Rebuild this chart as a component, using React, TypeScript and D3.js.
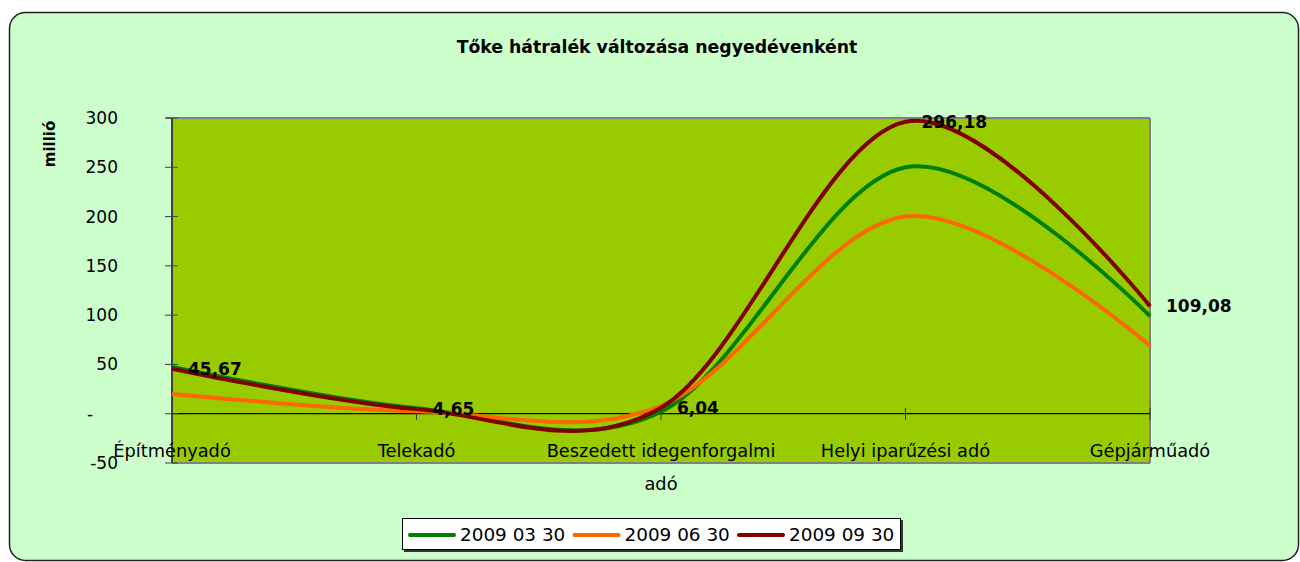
import React from "react";
import * as d3 from "d3";

const categories: string[][] = [
  ["Építményadó"],
  ["Telekadó"],
  ["Beszedett idegenforgalmi", "adó"],
  ["Helyi iparűzési adó"],
  ["Gépjárműadó"],
];
const seriesNames = ["2009 03 30", "2009 06 30", "2009 09 30"];
const seriesColors = ["#008000", "#FF6600", "#800000"];
const s0330 = [47.5, 5.5, 2, 250, 99];
const s0630 = [20, 2.5, 8, 200, 69];
const s0930 = [45.67, 4.65, 6.04, 296.18, 109.08];
const labelValues = ["45,67", "4,65", "6,04", "296,18", "109,08"];
const yTicks = [-50, 0, 50, 100, 150, 200, 250, 300];

const FONT = "'Comic Sans MS', 'DejaVu Sans', sans-serif";

export default function App() {
  const W = 1300, H = 562;
  const left = 172, right = 1150, top = 118, bottom = 463;
  const x = d3.scalePoint<number>().domain(d3.range(categories.length)).range([left, right]);
  const y = d3.scaleLinear().domain([-50, 300]).range([bottom, top]);
  const line = d3
    .line<number>()
    .x((_, i) => x(i) as number)
    .y((v) => y(v))
    .curve(d3.curveCardinal.tension(0));
  const series = [s0330, s0630, s0930];

  return (
    <svg width={W} height={H} style={{ position: "absolute", left: 0, top: 0 }} fontFamily={FONT}>
      <rect x={9.5} y={12.5} width={1289} height={548} rx={16} fill="#CCFFCC" stroke="#222" strokeWidth={1.5} />
      <text x={657} y={53} textAnchor="middle" fontWeight="bold" fontSize={17.3} fill="#000">
        Tőke hátralék változása negyedévenként
      </text>
      <text transform="translate(55,144) rotate(-90)" textAnchor="middle" fontWeight="bold" fontSize={15} fill="#000">
        millió
      </text>
      {/* plot area */}
      <rect x={left} y={top} width={right - left} height={bottom - top} fill="#99CC00" />
      <line x1={left - 6} x2={right} y1={top} y2={top} stroke="#808080" strokeWidth={2} />
      <line x1={right} x2={right} y1={top} y2={bottom} stroke="#808080" strokeWidth={2} />
      <line x1={left} x2={right} y1={bottom} y2={bottom} stroke="#808080" strokeWidth={2} />
      <line x1={left} x2={right} y1={y(0)} y2={y(0)} stroke="#000" strokeWidth={1.2} />
      {categories.map((_, i) => (
        <line key={i} x1={x(i)} x2={x(i)} y1={y(0) - 6} y2={y(0) + 6} stroke="#333" strokeWidth={1} />
      ))}
      {/* y axis */}
      <line x1={left} x2={left} y1={top} y2={bottom} stroke="#404040" strokeWidth={2} />
      {yTicks.map((t) => (
        <g key={t}>
          <line x1={left - 7} x2={left + 6} y1={y(t)} y2={y(t)} stroke="#404040" strokeWidth={1} />
          {t === 0 ? (
            <text x={90} y={y(t) + 6} textAnchor="middle" fontSize={17} fill="#000">
              -
            </text>
          ) : (
            <text x={118} y={y(t) + 6} textAnchor="end" fontSize={17} fill="#000">
              {t}
            </text>
          )}
        </g>
      ))}
      {/* series */}
      {series.map((s, k) => (
        <path key={k} d={line(s) || ""} fill="none" stroke={seriesColors[k]} strokeWidth={4} strokeLinejoin="round" />
      ))}
      {/* category labels */}
      {categories.map((lines, i) => (
        <text key={i} x={x(i)} y={457} textAnchor="middle" fontSize={17.8} fill="#000">
          {lines.map((l, j) => (
            <tspan key={j} x={x(i)} dy={j === 0 ? 0 : 33}>
              {l}
            </tspan>
          ))}
        </text>
      ))}
      {/* data labels */}
      {s0930.map((v, i) => (
        <text key={i} x={(x(i) as number) + 16} y={y(v) + 6} fontWeight="bold" fontSize={17} fill="#000">
          {labelValues[i]}
        </text>
      ))}
      {/* legend */}
      <rect x={404} y={520} width={499} height={32} fill="#333" />
      <rect x={402.5} y={518.5} width={498} height={31} fill="#fff" stroke="#000" strokeWidth={1} />
      {seriesNames.map((n, k) => {
        const lx = 408 + k * 164.5;
        return (
          <g key={k}>
            <line x1={lx + 2} x2={lx + 46} y1={535} y2={535} stroke={seriesColors[k]} strokeWidth={4} strokeLinecap="round" />
            <text x={lx + 52} y={541} fontSize={18.4} fill="#000">
              {n}
            </text>
          </g>
        );
      })}
    </svg>
  );
}
